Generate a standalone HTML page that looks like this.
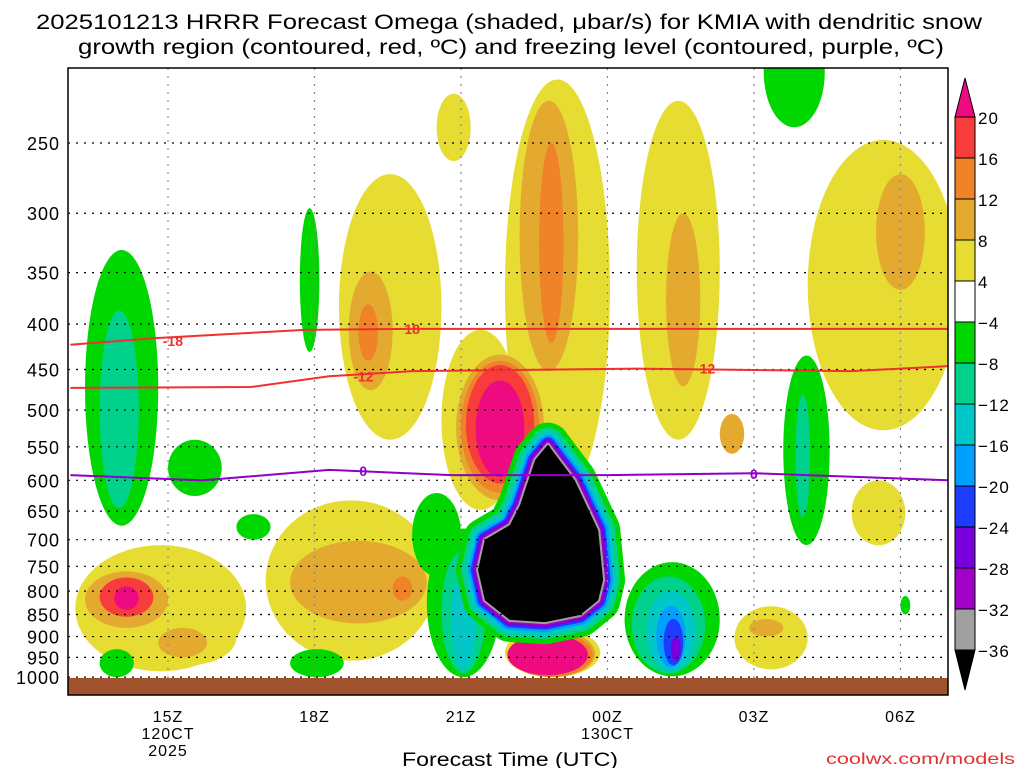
<!DOCTYPE html>
<html><head><meta charset="utf-8"><style>
body{margin:0;background:#fff;}
svg{display:block;font-family:"Liberation Sans",sans-serif;}
</style></head><body>
<svg id="chart" width="1024" height="768">
<text x="509" y="29" font-size="21" text-anchor="middle" textLength="946" lengthAdjust="spacingAndGlyphs">2025101213 HRRR Forecast Omega (shaded, μbar/s) for KMIA with dendritic snow</text>
<text x="511" y="54" font-size="21" text-anchor="middle" textLength="866" lengthAdjust="spacingAndGlyphs">growth region (contoured, red, ºC) and freezing level (contoured, purple, ºC)</text>
<defs><clipPath id="clip"><rect x="68" y="68" width="880" height="627"/></clipPath></defs>
<g id="plot" clip-path="url(#clip)"></g>
<g id="axes"></g>
<g id="cbar"></g>
<text x="510" y="766" font-size="19" text-anchor="middle" textLength="216" lengthAdjust="spacingAndGlyphs">Forecast Time (UTC)</text>
<text x="1015" y="764" font-size="16" text-anchor="end" fill="#e03030" textLength="189" lengthAdjust="spacingAndGlyphs">coolwx.com/models</text>
</svg>
<script>
const NS='http://www.w3.org/2000/svg';
// ---- data ----
const levelColors=['#000000','#a0a0a0','#a000c8','#7800dc','#1e3cff','#00a0ff','#00c8c8','#00d28c','#00d600','#ffffff','#e6dc32','#e4aa30','#f08228','#f83c3c','#ee0a80'];
const levelLabels=['-36','-32','-28','-24','-20','-16','-12','-8','-4','4','8','12','16','20'];
const yTicks=[250,300,350,400,450,500,550,600,650,700,750,800,850,900,950,1000];
const xTickHours=[15,18,21,24,27,30];
const xTickLabels=['15Z','18Z','21Z','00Z','03Z','06Z'];
// blobs: [hourStart, hourEnd, pressureTop, pressureBottom, colorIndex]
const blobs=[
[18.5,20.6,271,540,10],[18.7,19.6,349,475,11],[18.9,19.3,380,440,12],
[20.6,22.2,406,648,10],[21.9,24.05,212,632,10],[22.2,23.4,224,452,11],[22.6,23.1,250,420,12],
[20.9,22.7,433,632,11],[21.0,22.6,440,620,12],[21.1,22.5,445,605,13],[21.3,22.3,463,595,14],
[24.6,26.3,224,540,10],[25.2,25.9,300,470,11],[26.3,26.8,505,560,11],
[28.1,31.2,248,527,10],[29.5,30.5,271,366,11],
[17.0,20.5,632,958,10],[17.5,20.3,702,870,11],[19.6,20.0,770,820,12],
[13.1,16.6,710,985,10],[14.4,16.4,840,970,10],[13.3,15.0,760,880,11],[13.6,14.7,772,855,13],[13.9,14.4,790,840,14],[14.8,15.8,880,950,11],
[13.3,14.8,330,675,8],[13.6,14.4,386,645,7],[15.0,16.1,540,625,8],[17.7,18.1,296,430,8],
[16.4,17.1,655,700,8],[20.0,21.0,620,770,8],[13.6,14.3,930,1000,8],[17.5,18.6,930,1000,8],
[21.9,23.85,880,1000,10],[22.0,23.75,885,1000,11],[22.0,23.7,890,1000,12],[21.95,23.6,895,995,14],
[24.35,26.3,742,998,8],[24.5,26.0,770,990,7],[24.8,25.8,800,985,6],[25.0,25.6,830,975,5],[25.15,25.55,860,970,4],[25.3,25.5,900,960,3],
[27.6,28.55,434,710,8],[27.85,28.15,480,660,7],
[27.2,28.45,180,240,8],
[26.6,28.1,832,980,10],[26.9,27.6,860,900,11],
[29.0,30.1,600,710,10],[30.0,30.2,810,850,8],[20.5,21.2,220,262,10],
[20.3,21.8,680,1000,8],[20.6,21.5,720,990,7],[20.8,21.3,760,980,6]
];
// black core outline [hour, pressure]
const coreHours=[22.78,23.33,23.81,23.91,23.81,23.44,22.72,22.0,21.49,21.35,21.49,22.0,22.21,22.52];
const corePress=[547,600,683,777,819,851,867,862,819,757,700,674,640,569];
const dgz18Hours=[13,14.7,17.8,20,25,31];
const dgz18Press=[422,415,406,405,405,405];
const dgz12Hours=[13,16.7,18.3,20,24.6,29,31];
const dgz12Press=[472,471,458,452,449,452,446];
const frzHours=[13,15.7,18.3,20.8,24,27,31];
const frzPress=[592,600,584,592,592,589,600];
// ---- axes ----
const X=h=>168+(h-15)*48.83;
const Y=p=>143+Math.log(p/250)*385.3;
const plot=document.getElementById('plot'),axes=document.getElementById('axes'),cbar=document.getElementById('cbar');
function mk(tag,attrs,parent){const e=document.createElementNS(NS,tag);for(const k in attrs)e.setAttribute(k,attrs[k]);parent.appendChild(e);return e;}
blobs.forEach(b=>{
  const cx=(X(b[0])+X(b[1]))/2,cy=(Y(b[2])+Y(b[3]))/2;
  const e=mk('ellipse',{cx:cx,cy:cy,rx:(X(b[1])-X(b[0]))/2,ry:(Y(b[3])-Y(b[2]))/2,fill:levelColors[b[4]]},plot);
  
  
});
const corePts=coreHours.map((h,i)=>X(h)+','+Y(corePress[i])).join(' ');
[[44,8],[34,7],[26,6],[20,5],[15,4],[11,3],[7,2],[4,1],[0,0]].forEach(r=>{
  const e=mk('polygon',{points:corePts,fill:levelColors[r[1]],stroke:levelColors[r[1]],'stroke-width':r[0],'stroke-linejoin':'round'},plot);
  
  
});
yTicks.forEach(p=>{
  const l=mk('line',{x1:68,x2:948,y1:Y(p),y2:Y(p),stroke:'#000','stroke-dasharray':'2,6','stroke-width':1.2},plot);
  
  
});
xTickHours.forEach(h=>{
  const l=mk('line',{x1:X(h),x2:X(h),y1:68,y2:695,stroke:'#888','stroke-dasharray':'2,6','stroke-width':1.2},plot);
  
  
});
function line(hs,ps,color,name){
  const d=hs.map((h,i)=>(i?'L':'M')+X(h)+' '+Y(ps[i])).join(' ');
  const e=mk('path',{d:d,fill:'none',stroke:color,'stroke-width':2},plot);
  
  
}
line(dgz18Hours,dgz18Press,'#f03030','dgz-minus18-line');
line(dgz12Hours,dgz12Press,'#f03030','dgz-minus12-line');
line(frzHours,frzPress,'#9000c8','freezing-level-line');
function lbl(h,p,t,c){
  const e=mk('text',{x:X(h),y:Y(p)+5,'font-size':14,'font-weight':'bold','text-anchor':'middle',fill:c},plot);
  e.textContent=t;
  
  
}
lbl(15.1,418,'-18','#f03030');lbl(20.0,405,'18','#f03030');lbl(19.0,458,'-12','#f03030');lbl(26.0,449,'-12','#f03030');
lbl(19.0,586,'0','#9000c8');lbl(27.0,590,'0','#9000c8');
const gr=mk('rect',{x:68,y:678,width:880,height:17,fill:'#a0522d'},plot);


const fr=mk('rect',{x:68,y:68,width:880,height:627,fill:'none',stroke:'#000','stroke-width':1.5},axes);


yTicks.forEach(p=>{
  const t=mk('text',{x:60,y:Y(p)+7,'font-size':18,'text-anchor':'end','letter-spacing':1},axes);
  t.textContent=p;
  
  
});
xTickHours.forEach((h,i)=>{
  const t=mk('text',{x:X(h),y:722,'font-size':16,'text-anchor':'middle','letter-spacing':1},axes);
  t.textContent=xTickLabels[i];
  
  
});
[['120CT',15,739],['2025',15,756],['130CT',24,739]].forEach(d=>{
  const t=mk('text',{x:X(d[1]),y:d[2],'font-size':16,'text-anchor':'middle','letter-spacing':1},axes);
  t.textContent=d[0];
  
  
});
const bh=41,cbTop=117;
const tu=mk('polygon',{points:'955,117 975,117 965,78',fill:levelColors[14],stroke:'#000'},cbar);


const td=mk('polygon',{points:'955,650 975,650 965,690',fill:levelColors[0],stroke:'#000'},cbar);


for(let i=0;i<13;i++){
  const r=mk('rect',{x:955,y:cbTop+i*bh,width:20,height:bh,fill:levelColors[13-i],stroke:'#000'},cbar);
  
  
}
levelLabels.slice().reverse().forEach((s,i)=>{
  const t=mk('text',{x:978,y:cbTop+i*bh+7,'font-size':17,'letter-spacing':1},cbar);
  t.textContent=s.replace('-','−');
  
  
});
</script>
</body></html>
